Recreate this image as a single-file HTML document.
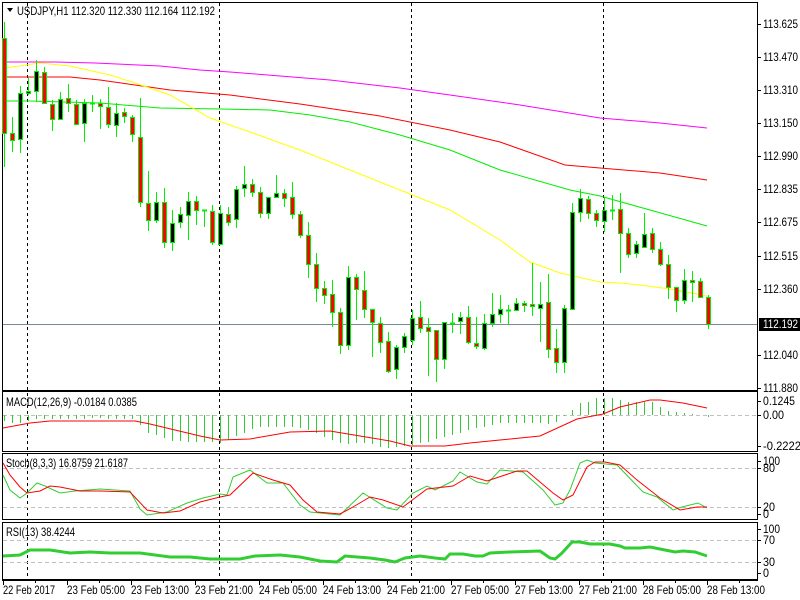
<!DOCTYPE html>
<html><head><meta charset="utf-8"><style>
html,body{margin:0;padding:0;background:#fff;}
svg{display:block;font-family:"Liberation Sans",sans-serif;font-size:12px;}
</style></head><body>
<svg id="s" width="800" height="600" xmlns="http://www.w3.org/2000/svg">
<rect width="800" height="600" fill="#fff"/>
<g id="g"></g>
</svg>
<script>
var g=document.getElementById('g');var NS='http://www.w3.org/2000/svg';
function el(t,a,txt){var e=document.createElementNS(NS,t);for(var k in a)e.setAttribute(k,a[k]);if(txt!=null)e.textContent=txt;g.appendChild(e);return e;}
function tx(x,y,s,w,fill){var a={x:x,y:y,textLength:w,lengthAdjust:'spacingAndGlyphs'};if(fill)a.fill=fill;return el('text',a,s);}
function pl(pts,col,w){el('polyline',{points:pts.map(function(p){return p[0]+','+p[1]}).join(' '),fill:'none',stroke:col,'stroke-width':w||1});}
[[2,2,390],[2,391,451],[2,453,519],[2,522,579]].forEach(function(r){el('rect',{x:2.5,y:r[1]+0.5,width:755,height:r[2]-r[1],fill:'none',stroke:'#000','stroke-width':1,'shape-rendering':'crispEdges'});});
el('line',{x1:2,y1:580.5,x2:758,y2:580.5,stroke:'#000','shape-rendering':'crispEdges'});
[27,219,411,603].forEach(function(x){el('line',{x1:x+0.5,y1:3,x2:x+0.5,y2:580,stroke:'#000','stroke-dasharray':'3,3','shape-rendering':'crispEdges'});});
[[415],[468],[507],[540],[562]].forEach(function(l){el('line',{x1:3,y1:l[0]+0.5,x2:756,y2:l[0]+0.5,stroke:'#c0c0c0','stroke-dasharray':'4,3','shape-rendering':'crispEdges'});});
pl([[5,62],[55,62],[95,63],[160,66],[200,70],[230,72],[280,76],[330,80],[400,88],[450,95],[520,105],[600,118],[660,123],[707,128]],'#ff00ff');
pl([[5,77],[70,77],[100,80],[170,90],[230,95],[300,104],[380,116],[450,130],[500,142],[565,165],[600,168],[660,173],[707,180]],'#ff0000');
pl([[5,101],[30,101],[100,103],[160,108],[220,109],[270,110],[310,115],[350,122],[400,135],[450,150],[500,170],[570,190],[600,196],[650,210],[707,226]],'#00ee00');
pl([[5,68],[40,63],[70,66],[110,75],[135,83],[170,95],[210,118],[250,132],[300,150],[350,170],[400,190],[450,210],[500,240],[530,262],[560,273],[600,282],[620,283],[640,285],[670,289],[707,296]],'#ffff00');
el('line',{x1:3,y1:324.5,x2:757,y2:324.5,stroke:'#778899','shape-rendering':'crispEdges'});
var C=[[38,133,22,167],[133,140,117,152],[139,93,86,153],[93,91,77,95],[91,71,60,102],[72,103,67,103],[104,119,100,131],[119,99,92,119],[98,103,84,112],[104,124,100,124],[123,103,99,142],[103,103,95,112],[103,106,99,129],[107,124,87,128],[125,113,103,137],[112,116,108,123],[117,134,115,142],[137,202,98,207],[203,220,171,231],[220,202,192,223],[202,242,188,248],[242,223,210,251],[222,214,207,228],[215,201,192,240],[201,210,196,225],[210,210,210,227],[211,242,205,245],[244,213,205,244],[214,222,207,226],[219,189,186,228],[188,184,166,197],[184,192,179,197],[192,213,187,218],[213,197,197,219],[197,193,175,197],[193,198,189,207],[197,214,182,219],[214,235,211,238],[235,264,222,278],[264,288,253,302],[288,295,281,304],[294,312,280,327],[312,345,308,354],[345,277,266,350],[277,289,274,320],[290,309,271,318],[309,322,309,357],[323,342,317,353],[341,371,332,373],[369,347,345,379],[347,336,333,353],[340,318,310,345],[317,328,301,333],[327,331,318,376],[330,359,330,382],[359,322,322,369],[323,323,313,333],[321,317,312,334],[317,342,306,344],[343,346,317,349],[348,323,314,350],[323,314,293,327],[314,309,295,323],[310,310,305,325],[310,303,298,311],[303,305,301,312],[304,306,263,316],[308,304,282,342],[302,349,274,358],[348,362,329,373],[362,308,305,373],[309,212,203,309],[212,198,189,222],[199,213,196,219],[213,220,210,227],[221,210,197,232],[210,210,195,220],[209,233,193,273],[233,254,228,258],[253,244,241,258],[247,234,213,248],[233,249,228,253],[249,264,242,266],[264,287,255,299],[287,300,287,312],[300,280,269,304],[280,282,271,302],[281,297,278,298],[297,324,295,329]];
C.forEach(function(d,i){var c=4+8*i;var top=Math.min(d[0],d[1]),bot=Math.max(d[0],d[1]);
el('line',{x1:c+0.5,y1:d[2],x2:c+0.5,y2:d[3],stroke:'#00ee00','shape-rendering':'crispEdges'});
if(bot-top<2){el('line',{x1:c-2,y1:top+0.5,x2:c+3,y2:top+0.5,stroke:'#00ee00','stroke-width':2,'shape-rendering':'crispEdges'});}
else el('rect',{x:c-1.5,y:top+0.5,width:4,height:bot-top,fill:d[1]>d[0]?'#ff0000':'#000',stroke:'#00ee00','shape-rendering':'crispEdges'});});
var H=[421,423,423,421,419,419,419,419,419,419,419,418,418,419,419,419,419,425,433,435,438,441,441,442,442,442,442,443,440,436,433,429,427,427,427,427,427,428,430,433,437,440,443,444,443,443,444,447,448,447,446,445,443,442,439,437,435,433,430,428,427,425,423,423,423,423,423,423,424,422,416,410,403,402,398,398,398,400,402,402,402,402,407,411,412,413,414,415,417];
H.forEach(function(v,i){var x=4+8*i;el('line',{x1:x+0.5,y1:415,x2:x+0.5,y2:v,stroke:'#32cd32','shape-rendering':'crispEdges'});});
pl([[3,428],[30,423],[50,421],[100,421],[135,421],[150,424],[175,430],[200,436],[220,440],[250,439],[290,432],[330,431],[360,436],[390,441],[410,446],[445,446],[470,443],[500,440],[540,436],[577,419],[603,414],[620,407],[650,400],[660,400],[683,403],[707,408]],'#ff0000');
pl([[3,475],[10,490],[20,498],[27,493],[37,483],[45,486],[60,493],[75,491],[100,489],[130,491],[140,509],[147,515],[167,512],[187,503],[203,498],[220,494],[227,495],[233,477],[250,470],[267,483],[283,483],[300,505],[310,512],[320,513],[340,515],[363,493],[387,508],[397,510],[413,493],[427,486],[435,490],[447,484],[453,481],[460,472],[477,482],[487,484],[500,470],[523,472],[543,490],[555,505],[563,503],[570,490],[580,463],[587,460],[595,463],[617,465],[643,492],[657,497],[673,510],[682,507],[698,503],[707,508]],'#32cd32');
pl([[3,463],[10,475],[20,487],[27,493],[40,491],[50,486],[60,487],[80,491],[100,491],[130,492],[147,510],[163,513],[180,511],[200,502],[220,497],[230,495],[253,473],[273,480],[290,485],[303,500],[317,512],[340,514],[353,507],[370,497],[383,500],[403,507],[427,489],[453,486],[470,476],[487,481],[517,471],[527,471],[553,493],[563,500],[573,495],[587,467],[595,462],[605,462],[620,465],[637,480],[660,498],[680,510],[697,507],[707,507]],'#ff0000');
pl([[3,556],[20,555],[30,550],[50,550],[70,553],[90,552],[110,553],[140,553],[170,557],[190,557],[210,559],[240,559],[255,556],[280,555],[300,557],[320,561],[337,562],[345,556],[370,558],[385,560],[395,562],[405,558],[420,556],[435,558],[445,559],[450,554],[463,554],[475,556],[483,556],[490,553],[510,552],[540,551],[550,558],[555,559],[562,553],[572,542],[580,542],[590,544],[610,544],[620,546],[625,548],[640,548],[650,547],[665,550],[675,552],[683,551],[695,552],[707,556]],'#32cd32',3);
var P=[['113.625',24],['113.470',57],['113.310',90],['113.150',123],['112.990',156],['112.835',189],['112.675',222],['112.515',256],['112.360',289],['112.040',355],['111.880',388]];
P.forEach(function(p){el('line',{x1:757,y1:p[1]+0.5,x2:761,y2:p[1]+0.5,stroke:'#000','shape-rendering':'crispEdges'});tx(763,p[1]+4,p[0],35);});
el('rect',{x:759,y:318,width:41,height:13,fill:'#000'});
tx(763,328,'112.192',35,'#fff');
[['0.1245',401,32],['0.00',415,21],['-0.2222',446,38],['100',461,17],['80',468,12],['20',507,12],['0',514,6],['100',529,17],['70',540,12],['30',562,12],['0',573,6]].forEach(function(p){el('line',{x1:757,y1:p[1]+0.5,x2:761,y2:p[1]+0.5,stroke:'#000','shape-rendering':'crispEdges'});tx(763,p[1]+4,p[0],p[2]);});
var T=['22 Feb 2017','23 Feb 05:00','23 Feb 13:00','23 Feb 21:00','24 Feb 05:00','24 Feb 13:00','24 Feb 21:00','27 Feb 05:00','27 Feb 13:00','27 Feb 21:00','28 Feb 05:00','28 Feb 13:00'];
T.forEach(function(t,i){var x=3+64*i;el('line',{x1:x+0.5,y1:580,x2:x+0.5,y2:585,stroke:'#000','shape-rendering':'crispEdges'});el('line',{x1:x+32.5,y1:580,x2:x+32.5,y2:583,stroke:'#000','shape-rendering':'crispEdges'});tx(x,594,t,i==0?52:58);});
el('polygon',{points:'7,8 13,8 10,12',fill:'#000'});
tx(17,15,'USDJPY,H1  112.320 112.330 112.164 112.192',198).setAttribute('xml:space','preserve');
tx(6,406,'MACD(12,26,9) -0.0184 0.0385',131);
tx(6,467,'Stoch(8,3,3) 16.8759 21.6187',122);
tx(6,536,'RSI(13) 38.4244',69);
</script>
</body></html>
